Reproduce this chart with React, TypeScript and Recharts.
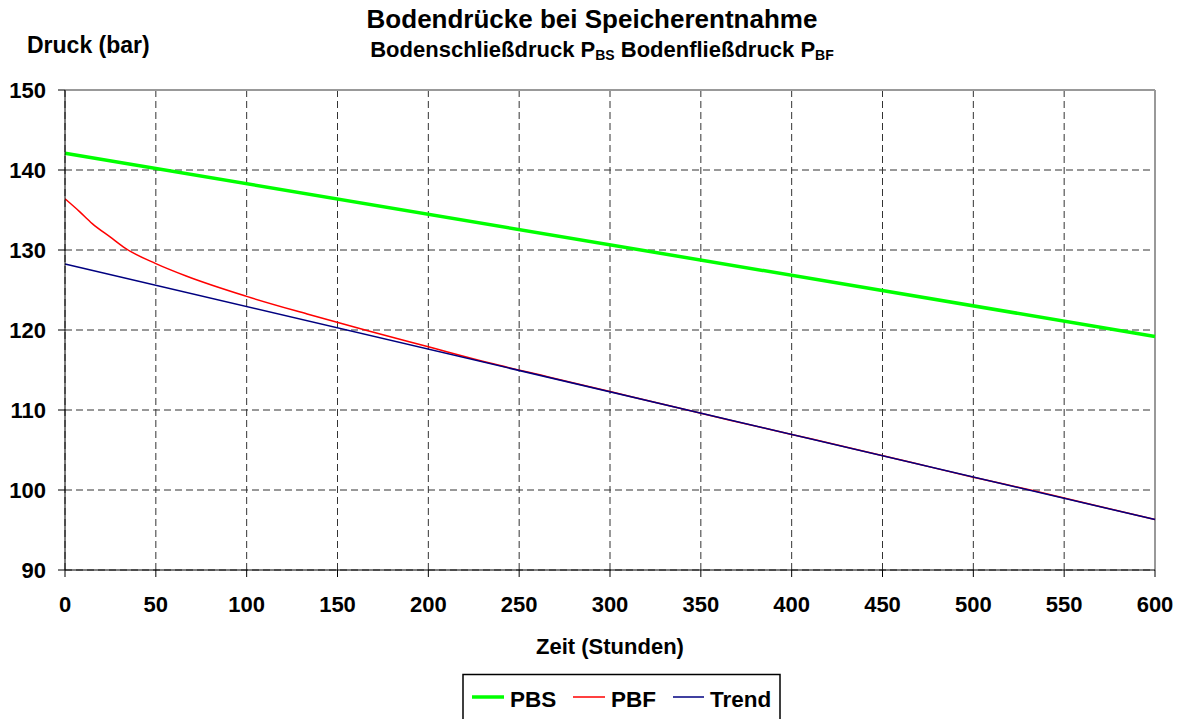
import { LineChart, Line, XAxis, YAxis, CartesianGrid, ReferenceLine } from 'recharts'

const pbsHours = [0, 600]
const pbsValues = [142.1, 119.2]

const pbfHours = [0, 8, 15, 25, 33.3, 50, 66.7, 100, 133.3, 166.7, 200, 233.3, 266.7, 300, 333.3, 366.7, 400, 433.3, 466.7, 500, 533.3, 566.7, 600]
const pbfValues = [136.4, 134.8, 133.3, 131.6, 130.2, 128.3, 126.75, 124.2, 122.0, 119.9, 117.9, 115.9, 114.1, 112.3, 110.5, 108.7, 106.95, 105.2, 103.4, 101.6, 99.9, 98.1, 96.3]

const trendHours = [0, 600]
const trendValues = [128.25, 96.3]

const xTicks = [0, 50, 100, 150, 200, 250, 300, 350, 400, 450, 500, 550, 600]
const yTicks = [90, 100, 110, 120, 130, 140, 150]

const FONT = '"Liberation Sans", Arial, sans-serif'

const toRows = (hours: number[], values: number[]) =>
  hours.map((t, i) => ({ t, v: values[i] }))

const pbsData = toRows(pbsHours, pbsValues)
const pbfData = toRows(pbfHours, pbfValues)
const trendData = toRows(trendHours, trendValues)

const tickStyle = { fontSize: 22, fontWeight: 'bold', fill: '#000', fontFamily: FONT }

export default function App() {
  return (
    <div style={{ position: 'absolute', left: 0, top: 0, width: 1182, height: 719, background: '#fff', overflow: 'hidden' }}>
      <LineChart width={1182} height={719} margin={{ top: 90, right: 27, left: 15, bottom: 59 }}>
        <CartesianGrid stroke="#333" strokeDasharray="7 4" />
        <XAxis
          dataKey="t"
          type="number"
          domain={[0, 600]}
          ticks={xTicks}
          allowDuplicatedCategory={false}
          stroke="#000"
          tickLine={{ stroke: '#000' }}
          tickSize={7}
          tickMargin={19}
          tick={tickStyle}
          height={90}
          label={{ value: 'Zeit (Stunden)', position: 'insideBottom', offset: 6, style: { fontSize: 22, fontWeight: 'bold', fill: '#000', fontFamily: FONT } }}
        />
        <YAxis
          type="number"
          domain={[90, 150]}
          ticks={yTicks}
          stroke="#000"
          tickLine={{ stroke: '#000' }}
          tickSize={7}
          tickMargin={12}
          tick={tickStyle}
          width={50}
        />
        <ReferenceLine y={150} stroke="#999" strokeWidth={2} />
        <ReferenceLine x={600} stroke="#999" strokeWidth={2} />
        <Line data={pbsData} dataKey="v" name="PBS" stroke="#00ff00" strokeWidth={3.5} dot={false} isAnimationActive={false} />
        <Line data={pbfData} dataKey="v" name="PBF" type="monotone" stroke="#ff0000" strokeWidth={1.5} dot={false} isAnimationActive={false} />
        <Line data={trendData} dataKey="v" name="Trend" stroke="#000080" strokeWidth={1.5} dot={false} isAnimationActive={false} />
      </LineChart>

      <svg width={1182} height={719} style={{ position: 'absolute', left: 0, top: 0, pointerEvents: 'none' }} fontFamily={FONT} fontWeight="bold">
        <text x={592} y={28} fontSize={26} textAnchor="middle" fill="#000">Bodendrücke bei Speicherentnahme</text>
        <text x={602} y={57} fontSize={22} textAnchor="middle" fill="#000">
          Bodenschließdruck P<tspan fontSize={14} dy={3}>BS</tspan>
          <tspan dy={-3}> Bodenfließdruck P</tspan><tspan fontSize={14} dy={3}>BF</tspan>
        </text>
        <text x={27} y={53} fontSize={23} fill="#000">Druck (bar)</text>

        <rect x={463} y={674.5} width={317} height={60} fill="#fff" stroke="#000" strokeWidth={1.5} />
        <line x1={472} x2={504} y1={697} y2={697} stroke="#00ff00" strokeWidth={3.5} />
        <text x={510} y={706.5} fontSize={22.5} fill="#000">PBS</text>
        <line x1={573} x2={605} y1={697} y2={697} stroke="#ff0000" strokeWidth={1.5} />
        <text x={611} y={706.5} fontSize={22.5} fill="#000">PBF</text>
        <line x1={673} x2={704} y1={697} y2={697} stroke="#000080" strokeWidth={1.5} />
        <text x={710} y={706.5} fontSize={22.5} fill="#000">Trend</text>
      </svg>
    </div>
  )
}
